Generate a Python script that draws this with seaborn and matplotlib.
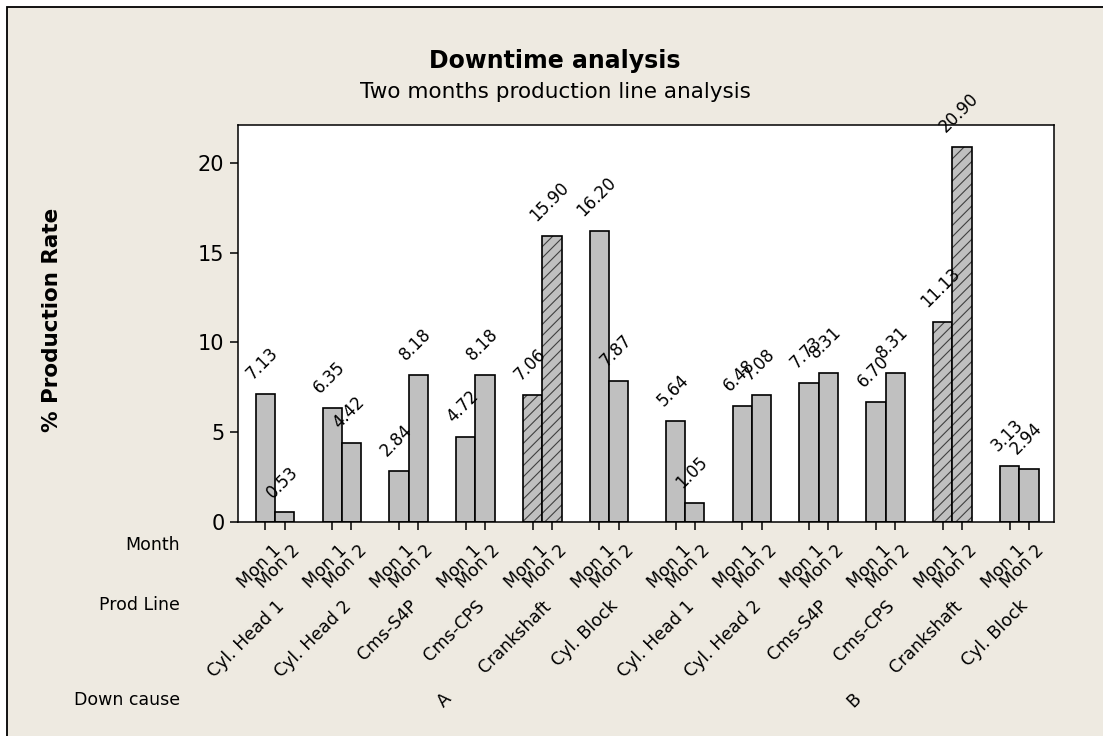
import matplotlib
matplotlib.use("Agg")
import matplotlib.pyplot as plt
import matplotlib.transforms as mtransforms
from matplotlib.patches import Rectangle
import numpy as np
import pandas as pd
import seaborn as sns

# ---------------- data ----------------
causes = ["A", "B"]
prod_lines = ["Cyl. Head 1", "Cyl. Head 2", "Cms-S4P", "Cms-CPS", "Crankshaft", "Cyl. Block"]
months = ["Mon 1", "Mon 2"]
values_A_mon1 = [7.13, 6.35, 2.84, 4.72, 7.06, 16.20]
values_A_mon2 = [0.53, 4.42, 8.18, 8.18, 15.90, 7.87]
values_B_mon1 = [5.64, 6.48, 7.73, 6.70, 11.13, 3.13]
values_B_mon2 = [1.05, 7.08, 8.31, 8.31, 20.90, 2.94]
hatched_line = "Crankshaft"
yticks = [0, 5, 10, 15, 20]

# ---------------- layout ----------------
GAP = 0.138          # extra gap between cause groups (in group pitch units)
BAR_W = 0.289        # width of one bar
rows = []
series = {("A", "Mon 1"): values_A_mon1, ("A", "Mon 2"): values_A_mon2,
          ("B", "Mon 1"): values_B_mon1, ("B", "Mon 2"): values_B_mon2}
for ci, c in enumerate(causes):
    for li, ln in enumerate(prod_lines):
        pos = ci * (len(prod_lines) + GAP) + li
        for m in months:
            rows.append(dict(cause=c, line=ln, month=m, pos=pos,
                             value=series[(c, m)][li]))
df = pd.DataFrame(rows)

sns.set_style("white")
plt.rcParams["font.family"] = ["DejaVu Sans"]
plt.rcParams["hatch.linewidth"] = 0.8
plt.rcParams["text.color"] = "black"
plt.rcParams["axes.labelcolor"] = "black"
plt.rcParams["xtick.color"] = "black"
plt.rcParams["ytick.color"] = "black"

W, H = 1103, 736
fig = plt.figure(figsize=(W / 100, H / 100), dpi=100, facecolor="white")

# beige panel with left/top border
bg = Rectangle((7 / W, -0.05), 1.2, 1 - 7 / H + 0.05, transform=fig.transFigure,
               facecolor="#EEEAE1", edgecolor="black", linewidth=1.3, zorder=-10)
fig.patches.append(bg)

ax_l, ax_r, ax_t, ax_b = 238, 1054, 125, 522
ax = fig.add_axes([ax_l / W, 1 - ax_b / H, (ax_r - ax_l) / W, (ax_b - ax_t) / H])
ax.set_facecolor("white")

sns.barplot(data=df, x="pos", y="value", hue="month", native_scale=True,
            width=2 * BAR_W, palette={"Mon 1": "#C0C0C0", "Mon 2": "#C0C0C0"},
            saturation=1, edgecolor="black", linewidth=1.2, errorbar=None,
            legend=False, ax=ax)

# hatch crankshaft bars and add value labels
for mi, cont in enumerate(ax.containers):
    sub = df[df["month"] == months[mi]].sort_values("pos").reset_index(drop=True)
    for bar, ln in zip(cont, sub["line"]):
        if ln == hatched_line:
            bar.set_hatch("///")
            bar._hatch_color = (0.25, 0.25, 0.25, 1.0)
    anns = ax.bar_label(cont, fmt="{:.2f}", padding=8, rotation=45, fontsize=12,
                        color="black")
    for a in anns:
        a.xyann = (-2, 8)

ax.set_xlim(-0.554, 11.658)
ax.set_ylim(0, 22.1)
ax.set_yticks(yticks)
ax.set_xlabel("")
ax.set_ylabel("")
for s in ax.spines.values():
    s.set_visible(True)
    s.set_color("black")
    s.set_linewidth(1.1)
ax.tick_params(axis="y", direction="out", length=5.8, width=1.1, labelsize=15,
               left=True, colors="black", pad=4)

# x ticks at bar centers
offs = [-BAR_W / 2, BAR_W / 2]
group_pos = sorted(df["pos"].unique())
tick_pos = [p + o for p in group_pos for o in offs]
tick_lab = [m for p in group_pos for m in months]
ax.set_xticks(tick_pos)
ax.set_xticklabels([])
ax.tick_params(axis="x", direction="out", length=5.5, width=1.1, bottom=True,
               colors="black")

xt = ax.get_xaxis_transform()
tr_month = mtransforms.offset_copy(xt, fig=fig, x=6, y=-19, units="dots")
for p, lab in zip(tick_pos, tick_lab):
    ax.text(p, 0, lab, transform=tr_month, rotation=45, rotation_mode="anchor",
            ha="right", va="top", fontsize=12.5, color="black", clip_on=False)

tr_line = mtransforms.offset_copy(xt, fig=fig, x=0, y=-(597 - ax_b), units="dots")
for ci, c in enumerate(causes):
    for li, ln in enumerate(prod_lines):
        p = ci * (len(prod_lines) + GAP) + li
        ax.text(p, 0, ln, transform=tr_line, rotation=45, rotation_mode="anchor",
                ha="right", va="top", fontsize=12.5, color="black", clip_on=False)

tr_cause = mtransforms.offset_copy(xt, fig=fig, x=0, y=-(690 - ax_b), units="dots")
for ci, c in enumerate(causes):
    p = ci * (len(prod_lines) + GAP) + (len(prod_lines) - 1) / 2
    ax.text(p, 0, c, transform=tr_cause, rotation=45, rotation_mode="anchor",
            ha="right", va="top", fontsize=12.5, color="black", clip_on=False)

# row labels
for txt, yc in [("Month", 545), ("Prod Line", 605), ("Down cause", 700)]:
    fig.text(180 / W, 1 - yc / H, txt, ha="right", va="center", fontsize=12.5,
             color="black")

# titles
fig.text(555 / W, 1 - 68 / H, "Downtime analysis", ha="center", va="baseline",
         fontsize=17, fontweight="bold", color="black")
fig.text(555 / W, 1 - 98 / H, "Two months production line analysis", ha="center",
         va="baseline", fontsize=15.5, color="black")
fig.text(52 / W, 1 - 320 / H, "% Production Rate", rotation=90, ha="center",
         va="center", fontsize=15.5, fontweight="bold", color="black")

fig.savefig("out.png", dpi=100, facecolor="white")
